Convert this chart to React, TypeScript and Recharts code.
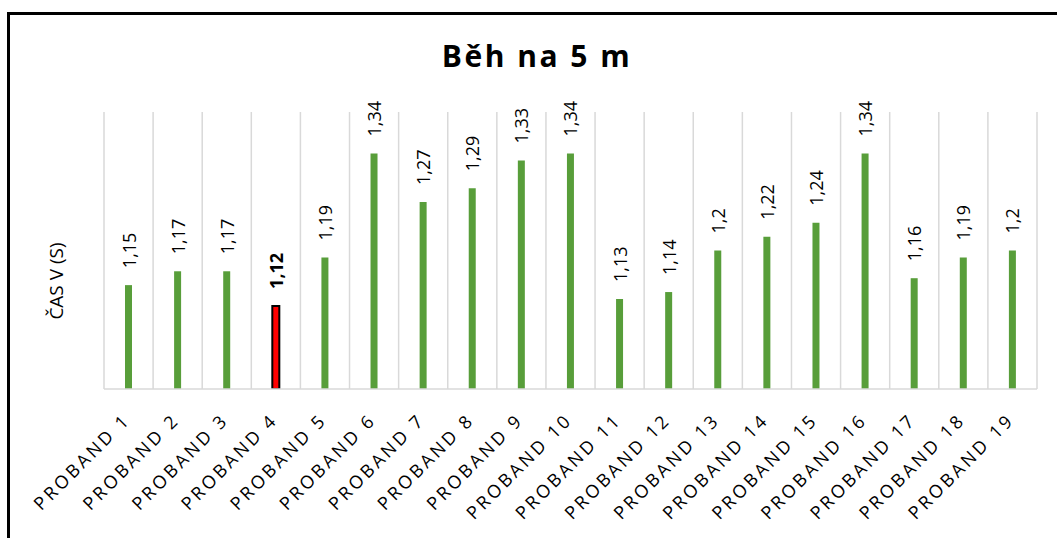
import React from "react";
import { BarChart, Bar, XAxis, YAxis, CartesianGrid, Cell, LabelList } from "recharts";

const categories = [
  "PROBAND 1", "PROBAND 2", "PROBAND 3", "PROBAND 4", "PROBAND 5",
  "PROBAND 6", "PROBAND 7", "PROBAND 8", "PROBAND 9", "PROBAND 10",
  "PROBAND 11", "PROBAND 12", "PROBAND 13", "PROBAND 14", "PROBAND 15",
  "PROBAND 16", "PROBAND 17", "PROBAND 18", "PROBAND 19",
];
const times = [
  1.15, 1.17, 1.17, 1.12, 1.19, 1.34, 1.27, 1.29, 1.33, 1.34,
  1.13, 1.14, 1.2, 1.22, 1.24, 1.34, 1.16, 1.19, 1.2,
];
const highlighted = "PROBAND 4";
const yDomain = [1, 1.4];

const data = categories.map((name, i) => ({ name, value: times[i] }));

const FONT = "'Open Sans', sans-serif";
const GREEN = "#589E3A";

const fmt = (v: number) => String(v).replace(".", ",");

const XTick = (props: any) => {
  const { x, y, payload } = props;
  return (
    <g transform={`translate(${x + 3},${y + 32})`}>
      <text
        transform="rotate(-45)"
        textAnchor="end"
        fontFamily={FONT}
        fontSize={18}
        letterSpacing={3}
        fill="#000"
      >
        {payload.value}
      </text>
    </g>
  );
};

const ValueLabel = (props: any) => {
  const { x, y, width, value, index } = props;
  const cx = x + width / 2;
  const ty = y - 17;
  const bold = categories[index] === highlighted;
  return (
    <text
      transform={`translate(${cx},${ty}) rotate(-90)`}
      textAnchor="start"
      dominantBaseline="central"
      fontFamily={FONT}
      fontSize={18}
      fontWeight={bold ? 700 : 400}
      fill="#000"
    >
      {fmt(value)}
    </text>
  );
};

export default function App() {
  const n = categories.length;
  return (
    <div
      style={{
        position: "fixed",
        left: 0,
        top: 0,
        width: 1057,
        height: 538,
        overflow: "hidden",
        background: "#fff",
      }}
    >
      <div
        style={{
          position: "absolute",
          left: 7,
          top: 12,
          width: 1200,
          height: 700,
          border: "3px solid #000",
        }}
      />
      <div
        style={{
          position: "absolute",
          left: 0,
          top: 36,
          width: 1074,
          textAlign: "center",
          fontFamily: FONT,
          fontWeight: 700,
          fontSize: 30,
          letterSpacing: 2.5,
          lineHeight: "40px",
        }}
      >
        Běh na 5 m
      </div>
      <div
        style={{
          position: "absolute",
          left: 56,
          top: 281,
          transform: "translate(-50%, -50%) rotate(-90deg)",
          fontFamily: FONT,
          fontSize: 19,
          whiteSpace: "nowrap",
        }}
      >
        ČAS V (S)
      </div>
      <div style={{ position: "absolute", left: 0, top: 0 }}>
        <BarChart
          width={1057}
          height={538}
          data={data}
          margin={{ top: 112, left: 104, right: 20, bottom: 0 }}
        >
          <CartesianGrid
            horizontal={false}
            stroke="#d9d9d9"
            strokeWidth={1.5}
            verticalCoordinatesGenerator={({ offset }: any) =>
              Array.from({ length: n + 1 }, (_, i) => offset.left + (i * offset.width) / n)
            }
          />
          <XAxis
            dataKey="name"
            interval={0}
            height={149}
            tickLine={false}
            tickSize={0}
            tickMargin={0}
            axisLine={{ stroke: "#d9d9d9", strokeWidth: 1.5 }}
            tick={<XTick />}
          />
          <YAxis hide domain={yDomain} allowDataOverflow />
          <Bar dataKey="value" barSize={7} isAnimationActive={false}>
            {data.map((d) => (
              <Cell
                key={d.name}
                fill={d.name === highlighted ? "#FF0000" : GREEN}
                stroke={d.name === highlighted ? "#000" : "none"}
                strokeWidth={d.name === highlighted ? 2 : 0}
              />
            ))}
            <LabelList dataKey="value" content={<ValueLabel />} />
          </Bar>
        </BarChart>
      </div>
    </div>
  );
}
